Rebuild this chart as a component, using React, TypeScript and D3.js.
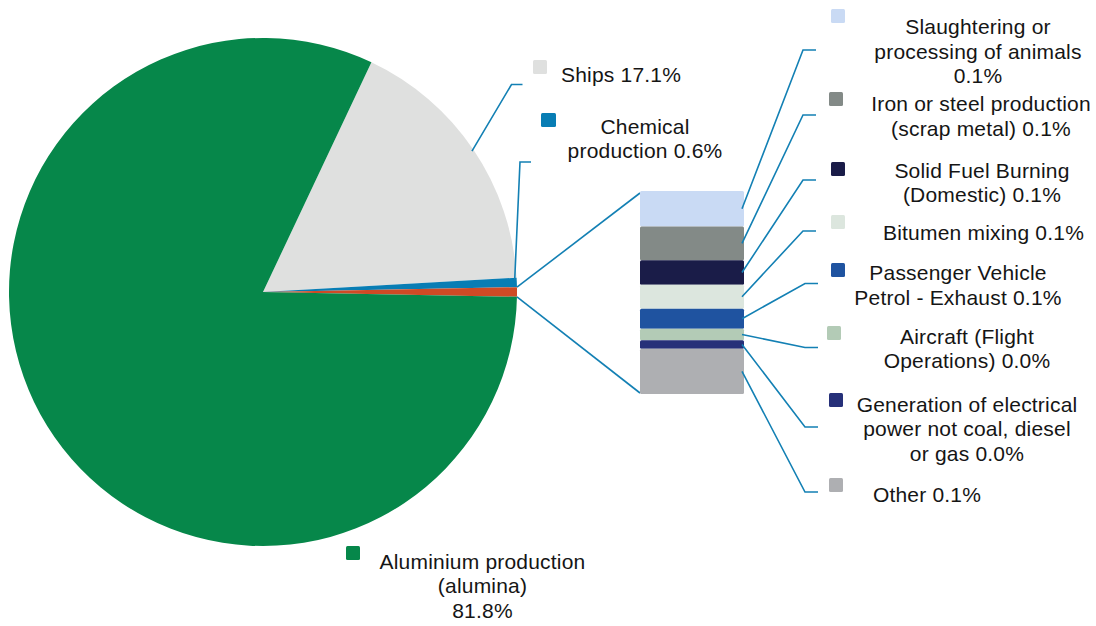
import React from "react";
import * as d3 from "d3";

// ---- data ----
const pieNames = ["Ships", "Chemical production", "Other sources", "Aluminium production (alumina)"];
const pieValues = [17.1, 0.6, 0, 81.8]; // "Other sources" filled from the breakdown below
const pieColors = ["#dfe0df", "#087db4", "#cf4a25", "#06874a"];

const subNames = [
  "Slaughtering or processing of animals",
  "Iron or steel production (scrap metal)",
  "Solid Fuel Burning (Domestic)",
  "Bitumen mixing",
  "Passenger Vehicle Petrol - Exhaust",
  "Aircraft (Flight Operations)",
  "Generation of electrical power not coal, diesel or gas",
  "Other",
];
const subValues = [0.105, 0.1, 0.072, 0.071, 0.059, 0.034, 0.025, 0.134];
const subColors = ["#c9daf4", "#838a87", "#1a1c48", "#dce6de", "#1f53a0", "#b3cbb6", "#263079", "#aeafb2"];
const subLabelLines = [
  ["Slaughtering or", "processing of animals", "0.1%"],
  ["Iron or steel production", "(scrap metal) 0.1%"],
  ["Solid Fuel Burning", "(Domestic) 0.1%"],
  ["Bitumen mixing 0.1%"],
  ["Passenger Vehicle", "Petrol - Exhaust 0.1%"],
  ["Aircraft (Flight", "Operations) 0.0%"],
  ["Generation of electrical", "power not coal, diesel", "or gas 0.0%"],
  ["Other 0.1%"],
];
const shipsLabel = ["Ships 17.1%"];
const chemLabel = ["Chemical", "production 0.6%"];
const aluLabel = ["Aluminium production", "(alumina)", "81.8%"];

// ---- layout ----
const W = 1096, H = 626;
const CX = 263, CY = 292, R = 254;
const BAR = { x: 640, w: 104, top: 191, bottom: 394 };
const LINE = "#1380b4";
const FONT = "'Liberation Sans', Arial, sans-serif";
const FS = 21;
const LH = 24.5;

// label layout for breakdown items: square pos, text center x, first baseline, leader y
const subLayout = [
  { sq: [831, 9], tx: 978, ty: 34, ly: 50 },
  { sq: [829, 92], tx: 981, ty: 111, ly: 115 },
  { sq: [831, 162], tx: 982, ty: 177.5, ly: 180 },
  { sq: [831, 215], tx: 983.5, ty: 240, ly: 231 },
  { sq: [831, 263], tx: 958, ty: 280, ly: 283.5 },
  { sq: [827, 326], tx: 967, ty: 343.5, ly: 347.5 },
  { sq: [829, 393], tx: 967, ty: 411.5, ly: 427 },
  { sq: [829, 478], tx: 927, ty: 501.5, ly: 492 },
];

function TextBlock({ lines, x, y }: { lines: string[]; x: number; y: number }) {
  return (
    <text x={x} y={y} textAnchor="middle" fontFamily={FONT} fontSize={FS} letterSpacing={0.2} fill="#151515">
      {lines.map((l, i) => (
        <tspan key={i} x={x} y={y + i * LH}>{l}</tspan>
      ))}
    </text>
  );
}

export default function App() {
  const otherTotal = d3.sum(subValues);
  const values = pieValues.map((v, i) => (i === 2 ? otherTotal : v));
  const total = d3.sum(values);
  // rotate so the "other" slice is centred on 3 o'clock
  const before = values[0] + values[1] + values[2] / 2;
  const a0 = Math.PI / 2 - (before / total) * 2 * Math.PI;
  const pie = d3.pie<number>().sort(null).startAngle(a0).endAngle(a0 + 2 * Math.PI);
  const arcs = pie(values);
  const arc = d3.arc<d3.PieArcDatum<number>>().innerRadius(0).outerRadius(R);
  const pt = (a: number, r: number) => [CX + r * Math.sin(a), CY - r * Math.cos(a)];

  const y = d3.scaleLinear().domain([0, otherTotal]).range([BAR.top, BAR.bottom]);
  const stacks: { y0: number; y1: number }[] = [];
  let acc = 0;
  subValues.forEach((v) => {
    stacks.push({ y0: y(acc), y1: y(acc + v) });
    acc += v;
  });

  const other = arcs[2];
  const pTop = pt(other.startAngle, R);
  const pBot = pt(other.endAngle, R);

  const ships = arcs[0];
  const shipStart = pt((ships.startAngle + ships.endAngle) / 2, R - 2);
  const chem = arcs[1];
  const chemStart = pt(chem.startAngle + (chem.endAngle - chem.startAngle) * 0.2, R - 2);

  return (
    <svg width={W} height={H} style={{ position: "absolute", left: 0, top: 0, background: "#fff" }}>
      {arcs.map((a, i) => (
        <path key={i} d={arc(a) || ""} transform={`translate(${CX},${CY})`} fill={pieColors[i]} />
      ))}

      {/* connectors pie -> bar */}
      <line x1={pTop[0]} y1={pTop[1]} x2={BAR.x} y2={BAR.top + 2} stroke={LINE} strokeWidth={1.6} />
      <line x1={pBot[0]} y1={pBot[1]} x2={BAR.x} y2={BAR.bottom - 1} stroke={LINE} strokeWidth={1.6} />

      {/* breakdown bar */}
      {stacks.map((s, i) => (
        <rect key={i} x={BAR.x} y={s.y0} width={BAR.w} height={s.y1 - s.y0} rx={1.5} fill={subColors[i]} />
      ))}

      {/* ships leader and label */}
      <polyline
        points={`${shipStart[0]},${shipStart[1]} 511.5,84.5 522.5,84.5`}
        fill="none" stroke={LINE} strokeWidth={1.6}
      />
      <rect x={533} y={60} width={14} height={14} rx={1.5} fill={pieColors[0]} />
      <TextBlock lines={shipsLabel} x={621} y={81.5} />

      {/* chemical leader and label */}
      <polyline
        points={`${chemStart[0]},${chemStart[1]} 520,162 531,162`}
        fill="none" stroke={LINE} strokeWidth={1.6}
      />
      <rect x={541} y={113} width={15} height={14} rx={1.5} fill={pieColors[1]} />
      <TextBlock lines={chemLabel} x={645} y={133.5} />

      {/* aluminium label */}
      <rect x={346} y={546} width={14} height={14} rx={1.5} fill={pieColors[3]} />
      <TextBlock lines={aluLabel} x={482.5} y={568.5} />

      {/* breakdown leaders and labels */}
      {subLayout.map((L, i) => {
        const my = (stacks[i].y0 + stacks[i].y1) / 2;
        const ex = i < 4 ? 803 : 805;
        return (
          <g key={i}>
            <polyline
              points={`${BAR.x + BAR.w - 2},${my} ${ex},${L.ly} ${ex + 13},${L.ly}`}
              fill="none" stroke={LINE} strokeWidth={1.6}
            />
            <rect x={L.sq[0]} y={L.sq[1]} width={14} height={14} rx={1.5} fill={subColors[i]} />
            <TextBlock lines={subLabelLines[i]} x={L.tx} y={L.ty} />
          </g>
        );
      })}
    </svg>
  );
}
